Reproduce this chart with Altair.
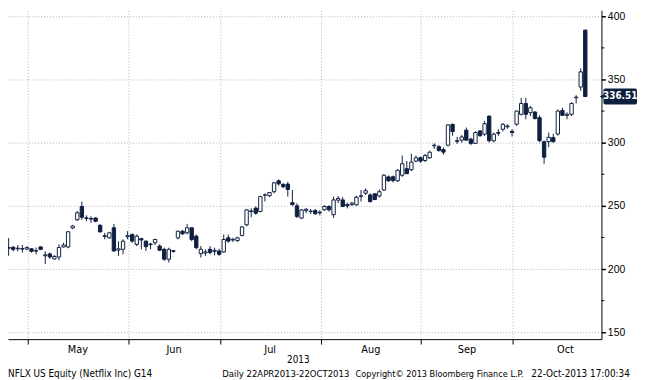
import altair as alt
import pandas as pd

# ---------------- data ----------------
MONTH_NAMES = ["May", "Jun", "Jul", "Aug", "Sep", "Oct"]
# trading days shown per month: Apr(22-30), May, Jun, Jul, Aug, Sep, Oct(1-22)
DAYS_SHOWN = [7, 22, 20, 22, 22, 20, 16]
OCT_FULL_DAYS = 23

OPEN = [166, 216, 217, 217.3, 216, 216.2, 215.8, 216, 214.5, 217.5,
        210.5, 212, 208, 209.5, 217.5, 217.5, 232.5, 239, 249.5, 240.5,
        240, 240.4, 234.6, 226.3, 224.7, 232.6, 215, 215.6, 225.5, 227.4,
        219.5, 224, 222.1, 219.8, 220.8, 218.2, 215.6, 207.8, 214.5, 224.7,
        229.9, 228.7, 232.6, 226, 212.2, 212.7, 215.6, 214, 214.3, 213.5,
        224.7, 223, 222.5, 226.5, 235, 245.5, 248.2, 245.5, 258.5, 258,
        261.2, 269.8, 267, 267.2, 252.5, 250, 240.3, 246.2, 245.8, 246.3,
        245, 246.9, 249.5, 243, 254.5, 254.7, 251, 251, 250.8, 257.5,
        260, 258.6, 259.5, 257.8, 262.5, 272.9, 273, 269.8, 274.2, 279.4,
        278.6, 285.4, 288, 285.9, 288, 297.5, 296.8, 294.5, 298, 314.5,
        301.5, 302, 309.9, 302.8, 299.4, 309.3, 306.7, 321, 301.5, 308,
        310.6, 312.5, 309, 314.6, 322.4, 331, 323.7, 324.2, 319.8, 300.8,
        300.8, 304, 306.8, 325.5, 321.5, 322.4, 335.5, 344, 389]
HIGH = [178, 219.5, 224.5, 218, 219, 219, 218, 216.5, 217, 218,
        214, 213, 211, 219.5, 220.8, 230, 235, 246, 253.4, 242.5,
        241.7, 241, 235.5, 228.6, 229.5, 235.7, 222, 223.5, 230, 228,
        227.4, 224.7, 222.5, 220.8, 224, 219.5, 216.9, 216.9, 215, 230.5,
        231, 235.7, 233, 227.4, 218.2, 215.6, 218.2, 216.9, 216, 227.3,
        227.3, 224.7, 225.5, 234, 247.4, 248, 249.5, 258, 259.9, 261,
        269, 271, 268, 269, 262.5, 252, 247.4, 248.2, 247.4, 247.5,
        246.5, 250.5, 250.5, 257.3, 257.8, 256.8, 252.6, 253, 258, 262.5,
        263.8, 259.9, 260, 263, 275, 274, 274, 279, 289.8, 285.4,
        291.1, 289.8, 289, 291.1, 293.7, 299.4, 298, 296.3, 314.5, 315,
        304.6, 306, 312, 304, 309, 310, 317.2, 321.5, 308, 310.6,
        315.5, 314.5, 310.6, 325.5, 335.4, 335.4, 329, 325, 321.6, 301.6,
        308, 307, 326.3, 327.6, 324, 332, 337.5, 358.8, 389.5]
LOW = [164, 209, 210.5, 214, 214, 213, 215, 213, 211.5, 215,
       204, 208, 207.5, 207, 217, 216.5, 231.5, 238, 239, 237.8,
       236.5, 237, 229, 223.5, 224, 213.8, 210.4, 211.7, 223.5, 220.8,
       218.2, 215.6, 214.3, 215.6, 219, 214.3, 206.5, 205.2, 213, 223.4,
       227, 227.4, 222, 215.6, 209.1, 210.4, 211.7, 210.9, 210.5, 213,
       220.8, 221.3, 221.5, 226, 233.8, 241, 243, 245, 253.4, 257,
       259.9, 266, 264, 257.3, 250, 240.3, 239.6, 244.2, 243.5, 243,
       242.5, 246, 245.5, 240.4, 252, 249, 248, 250, 250, 253.4,
       258.6, 252.6, 254.5, 256.5, 261.7, 269, 268.5, 269, 272.9, 275,
       277.6, 284.6, 284, 284.6, 287.2, 295, 293, 290.6, 297, 305.4,
       298.9, 300, 301.5, 298, 299, 305, 305.4, 300.2, 300.2, 305.4,
       309, 311, 304.9, 313.3, 321.6, 318.5, 321, 318.5, 300.3, 283.3,
       296.3, 300, 305.5, 321, 318.5, 321, 331, 341, 336]
CLOSE = [176, 217, 216.5, 215.5, 216.5, 215.8, 217, 214, 214.2, 215.5,
         211.2, 209.6, 210, 217, 219, 229.5, 234, 244.5, 241, 240,
         239.5, 237.8, 229.4, 225.8, 228.7, 214.3, 216, 222, 226.5, 222.1,
         226, 223, 217.7, 219.3, 223.4, 214.9, 207.8, 215.6, 214, 229.9,
         227.9, 232.6, 223.4, 216.9, 215.6, 213.5, 213, 214.8, 211.7, 223.4,
         222.1, 223.5, 224.7, 233.3, 246.8, 246, 244.2, 257.3, 258.6, 260.5,
         268.2, 267.4, 265.1, 263, 251, 241.6, 246.8, 247.3, 245.5, 243.7,
         244.5, 249.5, 246.9, 254.7, 255.8, 249.5, 250, 252.2, 256.8, 258,
         262, 253.4, 255, 261.2, 274.2, 269.8, 270, 278.1, 283.3, 275.5,
         284.6, 288, 285.4, 289.8, 292.4, 298, 293.7, 292.5, 314, 308.8,
         301, 304.5, 302, 299.4, 308, 305.4, 315, 301.5, 306.7, 307.5,
         314.5, 313.2, 308, 325, 331, 322.4, 327.6, 319, 301.6, 288.5,
         304.2, 300.8, 325, 321.6, 322.5, 331, 336, 356, 336.51]

Y_TICKS = [150, 200, 250, 300, 350, 400]
Y_MINOR = [175, 225, 275, 325, 375]
LAST_PRICE = 336.51
YEAR_LABEL = "2013"
FOOTER_LEFT = "NFLX US Equity (Netflix Inc) G14"
FOOTER_RANGE = "Daily 22APR2013-22OCT2013"
FOOTER_COPY = "Copyright\u00a9 2013 Bloomberg Finance L.P."
FOOTER_TIME = "22-Oct-2013 17:00:34"

# ---------------- build tables ----------------
NAVY = "#0f1f40"
GRID = "#b4b4b4"
FONT = "DejaVu Sans Condensed, Liberation Sans Narrow, sans-serif"
AXFONT = "Liberation Sans, Arial, sans-serif"

df = pd.DataFrame({"i": range(len(OPEN)), "open": OPEN, "high": HIGH,
                   "low": LOW, "close": CLOSE})

starts = []
acc = 0
for n in DAYS_SHOWN[:-1]:
    acc += n
    starts.append(acc)
GRID_SHIFT = 0.85
bounds = [s - GRID_SHIFT for s in starts]
bounds_ext = bounds + [starts[-1] + OCT_FULL_DAYS - GRID_SHIFT]
months = pd.DataFrame({
    "m": MONTH_NAMES,
    "mid": [(bounds_ext[k] + bounds_ext[k + 1]) / 2 for k in range(len(MONTH_NAMES))],
})

W, H = 601, 333
xs = alt.Scale(domain=[1.863, 131.53], nice=False, zero=False, padding=0)
ys = alt.Scale(domain=[144.53, 404.69], nice=False, zero=False, padding=0)

x_axis = alt.Axis(values=bounds, labels=False, title=None, grid=True,
                  gridDash=[1, 2], gridColor=GRID, gridWidth=1,
                  tickSize=5, tickColor="black", domainColor="black")
y_axis = alt.Axis(orient="right", values=Y_TICKS, title=None, grid=True,
                  gridDash=[1, 2], gridColor=GRID, gridWidth=1,
                  tickSize=4, tickWidth=1.5, tickColor="black",
                  domainColor="black", labelFontSize=10.5, labelColor="black",
                  labelPadding=2, labelFont=AXFONT)

X = lambda f: alt.X(f, scale=xs, axis=x_axis)
Y = lambda f: alt.Y(f, scale=ys, axis=y_axis)

base = alt.Chart(df)

wicks = base.mark_rule(color=NAVY, strokeWidth=1, clip=True).encode(
    x=X("i:Q"), y=Y("low:Q"), y2="high:Q",
)

bodies = base.mark_bar(size=3.4, stroke=NAVY, strokeWidth=1, clip=True).encode(
    x=X("i:Q"), y=Y("open:Q"), y2="close:Q",
    fill=alt.condition("datum.close >= datum.open", alt.value("white"), alt.value(NAVY)),
)

minor = alt.Chart(pd.DataFrame({"v": Y_MINOR})).mark_rule(
    color="black", strokeWidth=1).encode(
    x=alt.value(W), x2=alt.value(W + 3), y=Y("v:Q"),
)

month_text = alt.Chart(months).mark_text(
    font=FONT, fontSize=11, color="black", baseline="middle", align="center").encode(
    x=X("mid:Q"), y=alt.value(H + 11), text="m:N",
)

last_df = pd.DataFrame({"p": [LAST_PRICE], "t": [f"{LAST_PRICE:.2f}"]})
last_box = alt.Chart(last_df).mark_rect(
    color=NAVY, cornerRadius=2, yOffset=-8, y2Offset=8).encode(
    x=alt.value(W + 2), x2=alt.value(W + 36), y=Y("p:Q"), y2="p:Q",
)
last_tri = alt.Chart(last_df).mark_point(
    shape="triangle-left", filled=True, color=NAVY, size=40, opacity=1).encode(
    x=alt.value(W + 1), y=Y("p:Q"),
)
last_txt = alt.Chart(last_df).mark_text(
    font=FONT, fontSize=10, fontWeight="bold", color="white",
    align="center", baseline="middle").encode(
    x=alt.value(W + 19), y=Y("p:Q"), text="t:N",
)

foot_df = pd.DataFrame({
    "t": [YEAR_LABEL, FOOTER_LEFT, FOOTER_RANGE, FOOTER_COPY, FOOTER_TIME],
    "px": [294, 0, 217, 352, 530],
    "py": [H + 21, H + 35, H + 35, H + 35, H + 35],
    "al": ["center", "left", "left", "left", "left"],
    "fs": [10, 10, 9.6, 9.2, 10],
})
footer_layers = []
for _, r in foot_df.iterrows():
    footer_layers.append(
        alt.Chart(pd.DataFrame({"t": [r.t]})).mark_text(
            font=FONT, fontSize=float(r.fs), color="black", align=r.al,
            baseline="middle").encode(
            x=alt.value(float(r.px)), y=alt.value(float(r.py)), text="t:N")
    )

chart = alt.layer(
    wicks, bodies, minor, month_text, last_box, last_tri, last_txt, *footer_layers
).properties(
    width=W, height=H,
    autosize=alt.AutoSizeParams(type="none"),
    padding={"left": 0, "top": 0, "right": 36, "bottom": 39},
    background="white",
).configure_view(stroke=None)

chart.save("out.html", embed_options={"renderer": "svg", "actions": False})
